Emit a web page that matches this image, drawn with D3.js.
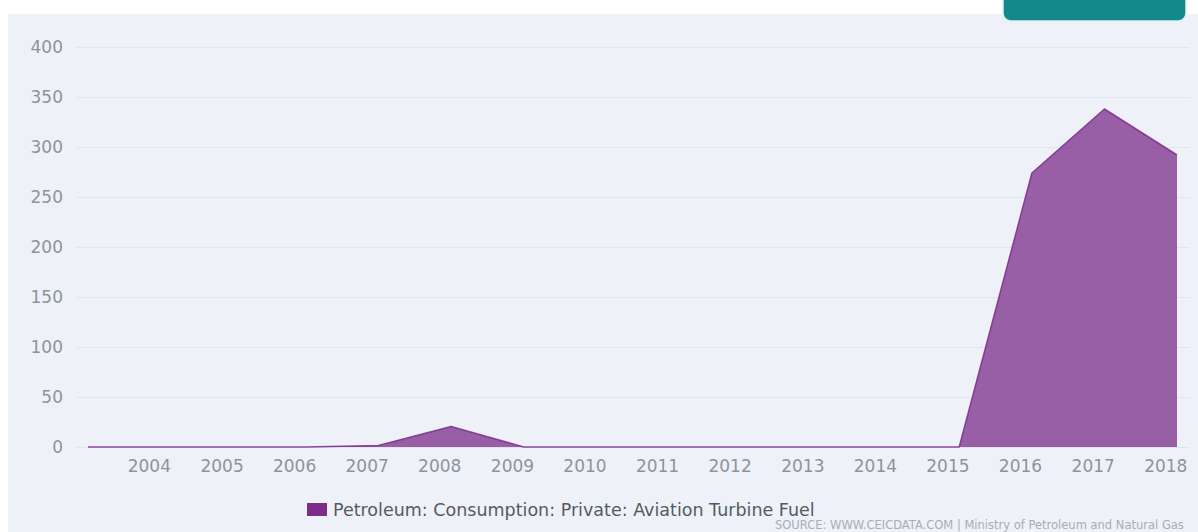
<!DOCTYPE html>
<html>
<head>
<meta charset="utf-8">
<script src="https://cdn.jsdelivr.net/npm/d3@7"></script>
<style>
  body { margin: 0; background: #fff; }
  svg { display: block; font-family: "DejaVu Sans", sans-serif; }
</style>
</head>
<body>
<div id="chart"></div>
<script>
"use strict";

// fiscal years, one value each
var years = [2003, 2004, 2005, 2006, 2007, 2008, 2009, 2010, 2011, 2012, 2013, 2014, 2015, 2016, 2017, 2018];
var values = [0, 0, 0, 0, 1.5, 20.5, 0, 0, 0, 0, 0, 0, 0, 274, 338, 292];
var yTicks = [0, 50, 100, 150, 200, 250, 300, 350, 400];
var seriesName = "Petroleum: Consumption: Private: Aviation Turbine Fuel";
var sourceText = "SOURCE: WWW.CEICDATA.COM | Ministry of Petroleum and Natural Gas";

var width = 1198, height = 532;
var seriesColor = "#7b2d8b";

var data = years.map(function(y, i) {
  return { date: new Date(y, 2, 1), value: values[i] };
});

var svg = d3.select("#chart").append("svg")
  .attr("width", width)
  .attr("height", height);

svg.append("rect")
  .attr("x", 8).attr("y", 14)
  .attr("width", width - 8).attr("height", height - 14)
  .attr("fill", "#eef2f8");

// teal button peeking at the top
svg.append("rect")
  .attr("x", 1003).attr("y", -10)
  .attr("width", 183).attr("height", 31)
  .attr("rx", 8)
  .attr("fill", "#14898b")
  .attr("stroke", "#d9f1f1")
  .attr("stroke-width", 1.5);

var x = d3.scaleTime()
  .domain(d3.extent(data, function(d) { return d.date; }))
  .range([88, 1177]);

var y = d3.scaleLinear()
  .domain([0, 400])
  .range([447, 47]);

// grid
svg.append("g")
  .selectAll("line")
  .data(yTicks)
  .enter().append("line")
  .attr("x1", 76).attr("x2", 1190)
  .attr("y1", function(d) { return y(d) + 0.5; })
  .attr("y2", function(d) { return y(d) + 0.5; })
  .attr("stroke", "#e1e5ee")
  .attr("stroke-width", 1);

var yAxis = svg.append("g")
  .attr("transform", "translate(63,0)")
  .call(d3.axisLeft(y).tickValues(yTicks).tickSize(0).tickPadding(0));
yAxis.select(".domain").remove();
yAxis.selectAll("text")
  .attr("fill", "#8f9399")
  .style("font-size", "17px")
  .style("font-family", "'DejaVu Sans', sans-serif");

var xAxis = svg.append("g")
  .attr("transform", "translate(0,460)")
  .call(d3.axisBottom(x).ticks(d3.timeYear.every(1)).tickFormat(d3.timeFormat("%Y")).tickSize(0).tickPadding(0));
xAxis.select(".domain").remove();
xAxis.selectAll("text")
  .attr("dy", "0.71em")
  .attr("fill", "#8f9399")
  .style("font-size", "17px")
  .style("font-family", "'DejaVu Sans', sans-serif");

// area
var area = d3.area()
  .x(function(d) { return x(d.date); })
  .y0(y(0))
  .y1(function(d) { return y(d.value); });

var line = d3.line()
  .x(function(d) { return x(d.date); })
  .y(function(d) { return y(d.value); });

svg.append("path")
  .datum(data)
  .attr("d", area)
  .attr("fill", seriesColor)
  .attr("fill-opacity", 0.75);

svg.append("path")
  .datum(data)
  .attr("d", line)
  .attr("fill", "none")
  .attr("stroke", seriesColor)
  .attr("stroke-opacity", 0.85)
  .attr("stroke-width", 1.5)
  .attr("stroke-linejoin", "round");

// legend
var legend = svg.append("g").attr("transform", "translate(307,503)");
legend.append("rect")
  .attr("width", 20).attr("height", 13)
  .attr("fill", seriesColor);
legend.append("text")
  .attr("x", 26).attr("y", 13)
  .attr("fill", "#555a61")
  .style("font-size", "17.5px")
  .text(seriesName);

svg.append("text")
  .attr("x", 775).attr("y", 529)
  .attr("fill", "#a8adb5")
  .style("font-size", "11.5px")
  .text(sourceText);
</script>
</body>
</html>
